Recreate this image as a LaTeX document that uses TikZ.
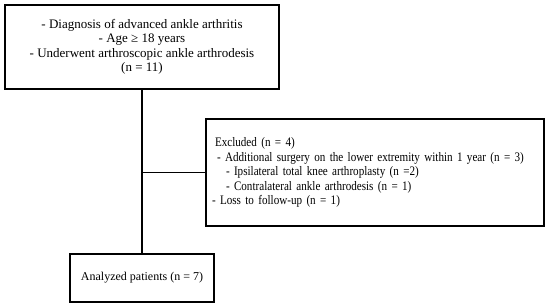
\documentclass[tikz,border=0pt]{standalone}
\usepackage{fontspec}
\setmainfont{Liberation Serif}
\newfontfamily\condfont[FakeStretch=0.855]{Liberation Serif}
\begin{document}
\begin{tikzpicture}[x=1pt,y=1pt,
  boxstyle/.style={draw=black, line width=1.3pt, inner sep=0pt},
  txt/.style={font=\fontsize{13}{14.5}\selectfont},
  ctxt/.style={font=\condfont\fontsize{13}{14.5}\selectfont},
  btxt/.style={font=\fontsize{12}{14.5}\selectfont},
  link/.style={draw=black, line width=1.1pt}]
\useasboundingbox (0,0) rectangle (550,-308);
\node[boxstyle, txt, minimum width=274pt, minimum height=84pt, align=center] (top) at (142,-47)
  {- Diagnosis of advanced ankle arthritis\\- Age ≥ 18 years\\- Underwent arthroscopic ankle arthrodesis\\(n = 11)};
\node[boxstyle, ctxt, minimum width=338pt, minimum height=107pt, text width=326pt, inner xsep=6pt, align=left] (excl) at (375,-172.5)
  {\hspace*{3pt}Excluded (n = 4)\\
   \hspace*{5pt}- Additional surgery on the lower extremity within 1 year (n = 3)\\
   \hspace*{14pt}- Ipsilateral total knee arthroplasty (n =2)\\
   \hspace*{14pt}- Contralateral ankle arthrodesis (n = 1)\\
   - Loss to follow-up (n = 1)};
\node[boxstyle, btxt, minimum width=144pt, minimum height=48pt] (bot) at (142,-278) {Analyzed patients (n = 7)};
\coordinate (j) at (top.south |- excl.west);
\draw[link] (top.south) -- (bot.north);
\draw[link] (j) -- (excl.west);
\end{tikzpicture}
\end{document}
